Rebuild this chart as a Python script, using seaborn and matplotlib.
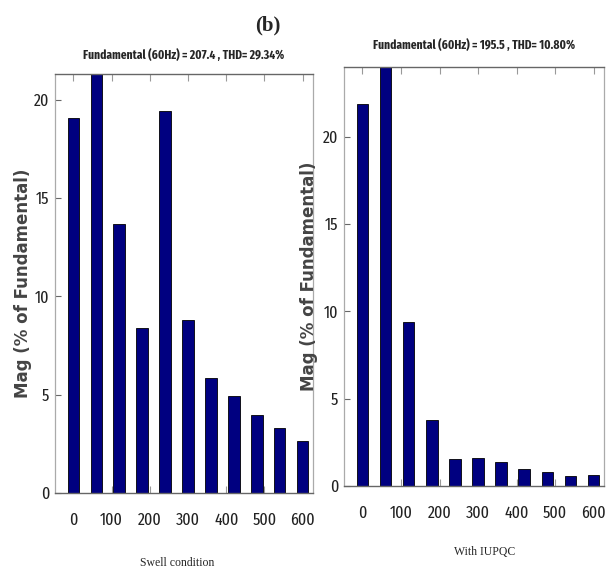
import matplotlib
matplotlib.use("Agg")
import matplotlib.pyplot as plt
import seaborn as sns
import pandas as pd

# Harmonic spectrum, frequency in Hz
freqs = [0, 60, 120, 180, 240, 300, 360, 420, 480, 540, 600]
swell_mag = [19.07, 23.0, 13.67, 8.38, 19.4, 8.77, 5.84, 4.92, 3.98, 3.29, 2.65]
iupqc_mag = [21.84, 26.0, 9.36, 3.78, 1.54, 1.62, 1.39, 0.99, 0.80, 0.57, 0.63]

xtick_vals = [0, 100, 200, 300, 400, 500, 600]
ytick_vals = [0, 5, 10, 15, 20]

titles = ["Fundamental (60Hz) = 207.4 , THD= 29.34%",
          "Fundamental (60Hz) = 195.5 , THD= 10.80%"]
xlabels = ["Swell condition", "With IUPQC"]
ylabel = "Mag (% of Fundamental)"
panel_tag = "(b)"

NARROW = ["Liberation Sans Narrow", "Fira Sans Extra Condensed",
          "Archivo Narrow", "PT Sans Narrow", "DejaVu Sans"]
SERIF = ["Liberation Serif", "DejaVu Serif"]

sns.set_theme(style="white")
plt.rcParams["font.family"] = NARROW

fig = plt.figure(figsize=(6.08, 5.72), dpi=100)
fig.patch.set_facecolor("white")

ax_l = fig.add_axes([0.0905, 0.1381, 0.4243, 0.7325])
ax_r = fig.add_axes([0.5658, 0.1503, 0.4276, 0.7331])

# axis, values, y upper limit, title pad, xlabel position, ylabel x position
panels = [
    (ax_l, swell_mag, 21.3, 11, (0.475, -0.152), -0.09),
    (ax_r, iupqc_mag, 24.0, 13, (0.54, -0.142), -0.1),
]

for i, (ax, mags, ytop, tpad, xl_pos, yl_x) in enumerate(panels):
    df = pd.DataFrame({"freq": freqs, "mag": mags})
    sns.barplot(data=df, x="freq", y="mag", native_scale=True, width=0.5,
                color="#000080", saturation=1, edgecolor="black",
                linewidth=0.6, ax=ax)
    ax.set_xlim(-48, 627)
    ax.set_ylim(0, ytop)
    ax.set_xticks(xtick_vals)
    ax.set_yticks(ytick_vals)
    ax.set_xticklabels([str(v) for v in xtick_vals], fontsize=12.5,
                       color="#222222", family=NARROW)
    ax.set_yticklabels([str(v) for v in ytick_vals], fontsize=12.5,
                       color="#222222", family=NARROW)
    ax.tick_params(axis="x", direction="in", top=True, bottom=True, length=5,
                   width=0.8, color="#999999", pad=14)
    ax.tick_params(axis="y", direction="in", left=True, right=False, length=4,
                   width=0.8, color="#666666", pad=4)
    for side in ("top", "bottom"):
        ax.spines[side].set_color("#666666")
        ax.spines[side].set_linewidth(1.0)
    for side in ("left", "right"):
        ax.spines[side].set_color("#aaaaaa")
        ax.spines[side].set_linewidth(0.9)
    ax.set_title(titles[i], fontsize=9, fontweight="bold", family=NARROW,
                 pad=tpad)
    ax.set_ylabel(ylabel, fontsize=12, fontweight="bold", color="#444444",
                  family=["DejaVu Sans"])
    ax.yaxis.set_label_coords(yl_x, 0.5)
    ax.set_xlabel(xlabels[i], fontsize=8.5, family=SERIF)
    ax.xaxis.set_label_coords(*xl_pos)

fig.text(0.44, 0.955, panel_tag, ha="center", va="center", fontsize=15,
         fontweight="bold", family=SERIF)

fig.savefig("out.png", dpi=100, facecolor="white")
